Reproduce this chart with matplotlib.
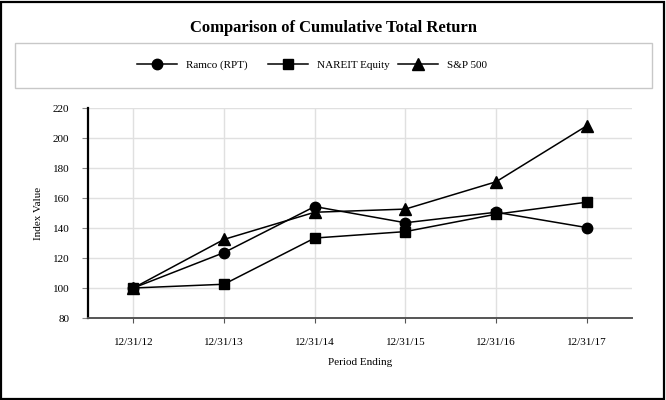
import matplotlib
matplotlib.use("Agg")
import matplotlib.pyplot as plt
from matplotlib.patches import Rectangle

periods = ["12/31/12", "12/31/13", "12/31/14", "12/31/15", "12/31/16", "12/31/17"]
ramco = [100, 123.6, 154.3, 143.5, 150.5, 140.3]
nareit = [100, 102.5, 133.3, 137.6, 149.2, 157.2]
sp500 = [100, 132.4, 150.5, 152.6, 170.8, 208.1]
series_names = ["Ramco (RPT)", "NAREIT Equity", "S&P 500"]
markers = ["o", "s", "^"]
yticks = [80, 100, 120, 140, 160, 180, 200, 220]

plt.rcParams['font.family'] = ['Liberation Serif', 'DejaVu Serif']

fig = plt.figure(figsize=(6.66, 4.0), dpi=100)
W, H = 666, 400

# outer border
fig.patches.append(Rectangle((1 / W, 1 / H), 1 - 3 / W, 1 - 3 / H, transform=fig.transFigure,
                             fill=False, edgecolor='black', linewidth=1.6))
# legend box
fig.patches.append(Rectangle((15 / W, 1 - 88 / H), (652 - 15) / W, (88 - 43) / H,
                             transform=fig.transFigure, fill=False, edgecolor='#c8c8c8', linewidth=1.0))

fig.text(0.5, 1 - 28 / H, "Comparison of Cumulative Total Return", ha='center', va='center',
         fontsize=12, fontweight='bold')

ax = fig.add_axes([88 / W, 1 - 318 / H, (632 - 88) / W, (318 - 108) / H])
x = list(range(len(periods)))
handles = []
for vals, name, m, in zip([ramco, nareit, sp500], series_names, markers):
    h, = ax.plot(x, vals, color='black', linewidth=1.1, marker=m, markersize=7.5 if m != '^' else 8.5,
                 markerfacecolor='black', markeredgecolor='black', label=name, zorder=3, clip_on=False)
    handles.append(h)

ax.set_xlim(-0.5, 5.5)
ax.set_ylim(80, 220)
ax.set_yticks(yticks)
ax.set_xticks(x)
ax.set_xticklabels(periods)
ax.grid(True, color='#e0e0e0', linewidth=1.0, zorder=0)
ax.set_axisbelow(True)
for s in ['top', 'right']:
    ax.spines[s].set_visible(False)
ax.spines['left'].set_color('black')
ax.spines['left'].set_linewidth(1.6)
ax.spines['bottom'].set_color('#555555')
ax.spines['bottom'].set_linewidth(1.4)
ax.tick_params(axis='y', length=4.3, color='#888888', labelsize=8, pad=9.0)
ax.tick_params(axis='x', length=3.6, color='#555555', labelsize=8, pad=10.6)
ax.set_xlabel("Period Ending", fontsize=8, labelpad=8)
ax.set_ylabel("Index Value", fontsize=8, labelpad=7)

# legend entries, one per slot
legend_left_px = [137, 268, 398]
for h, name, lx in zip(handles, series_names, legend_left_px):
    fig.legend(handles=[h], labels=[name], loc='center left', bbox_to_anchor=(lx / W, 1 - 65 / H),
               frameon=False, fontsize=8, handlelength=3.6, handletextpad=0.8,
               borderpad=0, borderaxespad=0)

fig.savefig("out.png", dpi=100)
